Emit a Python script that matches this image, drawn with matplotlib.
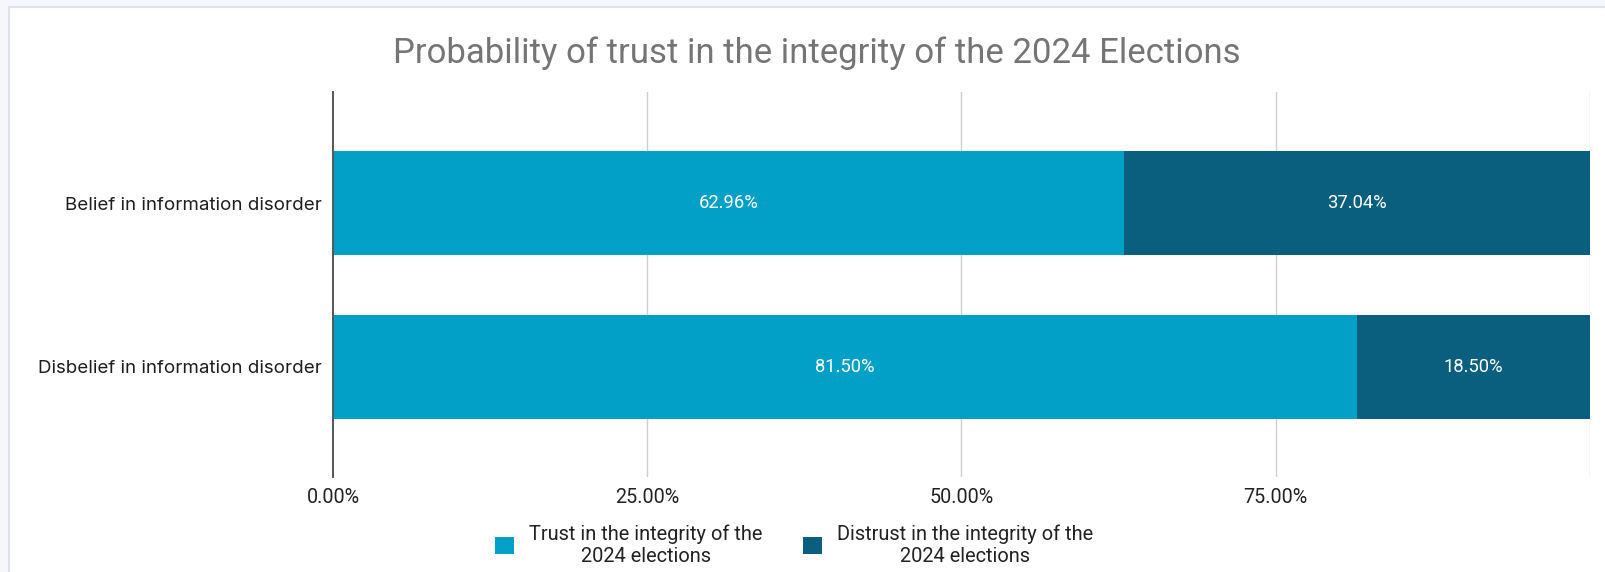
import matplotlib
matplotlib.use("Agg")
import matplotlib.pyplot as plt
from matplotlib.patches import Patch, Rectangle
from matplotlib.ticker import FixedLocator

# Data
categories = ["Belief in information disorder", "Disbelief in information disorder"]
trust = [62.96, 81.50]
distrust = [37.04, 18.50]
series_names = ["Trust in the integrity of the\n2024 elections",
                "Distrust in the integrity of the\n2024 elections"]
x_ticks = [0, 25, 50, 75]
x_tick_labels = ["0.00%", "25.00%", "50.00%", "75.00%"]

TRUST_COLOR = "#02a0c6"
DISTRUST_COLOR = "#0b5f7e"

W, H = 1606, 572
fig = plt.figure(figsize=(W / 100, H / 100), dpi=100)
fig.patch.set_facecolor("#f6f7fc")

# white card with a thin border on the left and top
card = Rectangle((9 / W, -0.1), 1.2, 1 - 7 / H + 0.1, transform=fig.transFigure,
                 facecolor="white", edgecolor="#dce3ea", linewidth=1.5, zorder=-5)
fig.patches.append(card)

ax = fig.add_axes([333 / W, 1 - 477 / H, (1590 - 333) / W, (477 - 92) / H])
ax.set_facecolor("none")
ax.set_zorder(2)

pos = list(range(len(categories)))
bar_h = 0.64
ax.barh(pos, trust, height=bar_h, color=TRUST_COLOR, zorder=3)
ax.barh(pos, distrust, left=trust, height=bar_h, color=DISTRUST_COLOR, zorder=3)

for i in pos:
    ax.text(trust[i] / 2, i, f"{trust[i]:.2f}%", ha="center", va="center",
            color="white", fontsize=13.2, family="Roboto", zorder=4)
    ax.text(trust[i] + distrust[i] / 2, i, f"{distrust[i]:.2f}%", ha="center",
            va="center", color="white", fontsize=13.2, family="Roboto", zorder=4)

ax.set_xlim(0, 100)
ax.set_ylim(1.671, -0.677)
ax.xaxis.set_major_locator(FixedLocator(x_ticks))
ax.set_xticklabels(x_tick_labels, family="Roboto", fontsize=14.2, color="#222222")
ax.tick_params(axis="x", length=0, pad=8)
ax.set_yticks(pos)
ax.set_yticklabels(categories, family="Inter", fontsize=13.5, color="#1e1e1e")
ax.tick_params(axis="y", length=0, pad=8)

for v in [25, 50, 75, 100]:
    ax.axvline(v, color="#cfcfcf", linewidth=1, zorder=1)

for s in ["top", "right", "bottom"]:
    ax.spines[s].set_visible(False)
ax.spines["left"].set_color("#555555")
ax.spines["left"].set_linewidth(1.4)
ax.spines["left"].set_zorder(5)

fig.text(817 / W, 1 - 53 / H, "Probability of trust in the integrity of the 2024 Elections",
         ha="center", va="center", fontsize=25, family="Roboto", color="#757575")

handles = [Patch(facecolor=TRUST_COLOR, edgecolor="none"),
           Patch(facecolor=DISTRUST_COLOR, edgecolor="none")]
leg = fig.legend(handles, series_names, loc="center", ncol=2,
                 bbox_to_anchor=(794 / W, 1 - 545 / H), frameon=False,
                 prop={"family": "Roboto", "size": 14.4},
                 handlelength=0.95, handleheight=0.95, handletextpad=0.75,
                 columnspacing=2.0, labelspacing=0.15)
for t in leg.get_texts():
    t.set_multialignment("center")
    t.set_color("#222222")

fig.savefig("out.png", dpi=100, facecolor=fig.get_facecolor())
